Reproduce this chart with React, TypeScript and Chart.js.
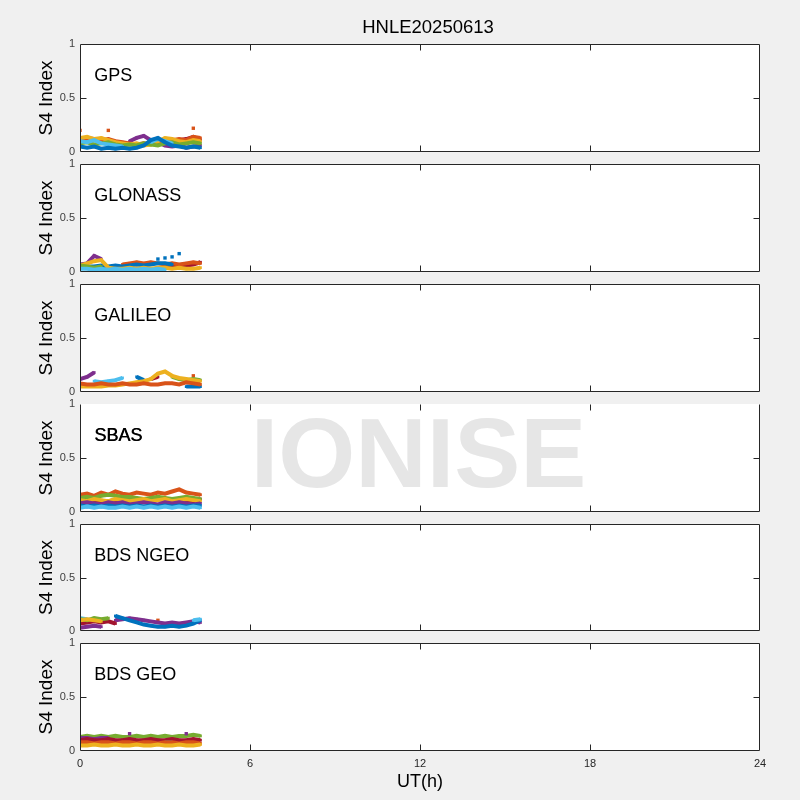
import React, { useEffect, useRef } from 'react';
import { Chart, registerables } from 'chart.js';
Chart.register(...registerables);

const FONT = '"Liberation Sans", Arial, Helvetica, sans-serif';
const N = null;

const BLUE = '#0072BD';
const ORANGE = '#D95319';
const YELLOW = '#EDB120';
const PURPLE = '#7E2F8E';
const GREEN = '#77AC30';
const CYAN = '#4DBEEE';
const RED = '#A2142F';

const TITLE = 'HNLE20250613';
const X_TITLE = 'UT(h)';
const Y_TITLE = 'S4 Index';
const X_TICKS = [0, 6, 12, 18, 24];
const Y_TICKS = [0, 0.5, 1];
const Y_TICK_LABELS = ['0', '0.5', '1'];
const WATERMARK = 'IONISE';

// UT hours of the sampled values
const TIMES = [0, 0.25, 0.5, 0.75, 1, 1.25, 1.5, 1.75, 2, 2.25, 2.5, 2.75, 3, 3.25, 3.5, 3.75, 4, 4.25];

// GPS
const gpsBlue = [0.05, 0.04, 0.05, 0.03, 0.04, 0.03, 0.04, 0.03, 0.04, 0.06, 0.11, 0.13, 0.09, 0.06, 0.05, 0.04, 0.05, 0.04];
const gpsCyan = [0.10, 0.09, 0.11, 0.08, 0.07, 0.06, 0.05, N, N, N, 0.09, 0.12, 0.10, 0.08, N, N, N, N];
const gpsYellow = [0.13, 0.14, 0.12, 0.13, 0.11, 0.09, 0.08, 0.07, 0.08, 0.06, 0.07, 0.10, 0.13, 0.12, 0.10, 0.09, 0.11, 0.10];
const gpsOrange = [0.12, 0.13, 0.12, 0.11, 0.12, 0.10, 0.09, 0.08, 0.07, 0.08, 0.07, 0.09, 0.10, 0.11, 0.12, 0.11, 0.14, 0.13];
const gpsOrangeDots = [0.20, N, N, N, 0.20, N, N, N, N, N, N, N, N, N, N, N, 0.22, N];
const gpsGreen = [0.08, 0.09, 0.07, 0.08, 0.09, 0.07, 0.06, 0.07, 0.06, 0.08, 0.07, 0.06, 0.08, 0.09, 0.07, 0.08, 0.09, 0.08];
const gpsPurple = [N, N, N, N, N, N, N, 0.10, 0.13, 0.15, 0.11, 0.09, 0.06, 0.05, 0.06, 0.04, 0.05, 0.06];
const gpsRed = [N, N, N, N, N, N, N, N, N, N, N, N, N, 0.09, 0.11, 0.12, 0.14, 0.11];

// GLONASS
const glnCyan = [0.03, 0.03, 0.02, 0.03, 0.02, 0.03, 0.02, 0.03, 0.02, 0.03, 0.02, 0.03, 0.02, N, N, N, N, N];
const glnGreen = [0.06, 0.05, 0.04, 0.05, N, N, N, N, N, N, N, N, N, N, N, N, N, N];
const glnYellow = [0.06, 0.08, 0.10, 0.11, 0.04, 0.03, 0.03, 0.04, 0.03, 0.04, 0.03, 0.04, 0.04, 0.03, 0.04, 0.03, 0.03, 0.04];
const glnPurple = [0.07, 0.08, 0.15, 0.12, N, N, N, N, N, N, N, N, N, N, N, N, N, N];
const glnBlue = [0.04, 0.05, 0.05, 0.06, 0.05, 0.06, 0.05, 0.06, 0.07, 0.06, 0.07, 0.08, 0.08, 0.07, N, N, N, N];
const glnBlueDots = [N, N, N, N, N, N, N, N, N, N, N, 0.12, 0.13, 0.14, 0.17, N, N, N];
const glnOrange = [N, N, N, N, N, N, 0.07, 0.08, 0.09, 0.08, 0.09, 0.08, 0.07, 0.08, 0.07, 0.08, 0.09, 0.08];
const glnRed = [N, N, N, N, N, N, N, N, N, N, N, N, 0.05, 0.06, 0.05, 0.06, 0.07, 0.09];

// GALILEO
const galOrange = [0.08, 0.07, 0.07, 0.08, 0.07, 0.07, 0.08, 0.07, 0.07, 0.08, 0.07, 0.07, 0.08, 0.08, 0.07, 0.09, 0.08, 0.07];
const galYellow = [0.05, 0.05, 0.05, 0.05, 0.06, 0.06, 0.07, 0.08, 0.09, 0.10, 0.12, 0.17, 0.19, 0.15, 0.13, 0.12, 0.11, 0.10];
const galPurple = [0.12, 0.14, 0.18, N, N, N, N, N, N, N, N, N, N, N, N, N, N, N];
const galCyan = [N, N, 0.10, 0.09, 0.10, 0.11, 0.13, N, N, N, N, N, N, N, N, N, N, N];
const galBlue = [N, N, N, N, N, N, N, N, 0.14, 0.11, N, N, N, N, N, 0.05, 0.05, 0.05];
const galRed = [N, N, N, N, N, N, N, N, N, N, 0.12, 0.14, N, N, N, N, N, N];
const galGreen = [N, N, N, N, N, N, N, N, N, N, N, N, N, 0.14, 0.12, 0.11, 0.12, 0.11];
const galOrangeDots = [N, N, N, N, N, N, N, N, N, N, N, N, N, N, N, N, 0.15, N];

// SBAS
const sbCyan = [0.04, 0.05, 0.04, 0.05, 0.04, 0.04, 0.05, 0.04, 0.05, 0.04, 0.05, 0.04, 0.05, 0.04, 0.05, 0.04, 0.05, 0.04];
const sbBlue = [0.06, 0.05, 0.06, 0.05, 0.06, 0.05, 0.06, 0.05, 0.06, 0.05, 0.06, 0.05, 0.06, 0.05, 0.06, 0.05, 0.06, 0.06];
const sbPurple = [0.08, 0.09, 0.08, 0.07, 0.09, 0.08, 0.09, 0.07, 0.08, 0.09, 0.08, 0.07, 0.09, 0.08, 0.09, 0.08, 0.07, 0.08];
const sbYellow = [0.11, 0.10, 0.12, 0.11, 0.10, 0.12, 0.11, 0.10, 0.11, 0.12, 0.10, 0.11, 0.12, 0.10, 0.11, 0.12, 0.11, 0.10];
const sbGreen = [0.13, 0.14, 0.13, 0.15, 0.16, 0.15, 0.14, 0.14, 0.13, 0.12, 0.13, 0.14, 0.13, 0.12, 0.13, 0.14, 0.13, 0.12];
const sbOrange = [0.16, 0.17, 0.15, 0.18, 0.16, 0.19, 0.17, 0.16, 0.18, 0.17, 0.16, 0.18, 0.17, 0.19, 0.21, 0.18, 0.17, 0.16];
const sbRed = [0.10, 0.09, 0.11, 0.09, 0.10, 0.11, 0.09, 0.10, 0.09, 0.11, 0.10, 0.12, 0.11, 0.10, 0.12, 0.11, 0.10, 0.12];

// BDS NGEO
const ngPurpleLow = [0.03, 0.04, 0.05, 0.04, N, N, N, N, N, N, N, N, N, N, N, N, N, N];
const ngRed = [0.07, 0.08, 0.09, 0.08, 0.09, 0.07, N, N, N, N, N, N, N, N, N, N, N, N];
const ngYellow = [0.10, 0.11, 0.10, 0.09, N, N, N, N, N, N, N, N, N, N, N, N, N, N];
const ngGreen = [0.11, 0.10, 0.12, 0.11, 0.12, N, N, N, N, N, N, N, N, N, N, N, N, N];
const ngCyan = [0.12, 0.11, N, N, N, N, N, N, N, N, N, N, N, N, N, N, 0.10, 0.11];
const ngPurple = [N, N, N, N, N, 0.10, 0.11, 0.12, 0.11, 0.10, 0.09, 0.08, 0.07, 0.08, 0.07, 0.08, 0.09, 0.08];
const ngBlue = [N, N, N, N, N, 0.14, 0.12, 0.10, 0.08, 0.06, 0.05, 0.04, 0.04, 0.05, 0.04, 0.05, 0.07, 0.10];
const ngOrangeDots = [N, N, N, N, N, N, N, N, N, N, N, 0.10, N, N, N, N, N, N];

// BDS GEO
const geoYellow = [0.05, 0.05, 0.06, 0.05, 0.05, 0.06, 0.05, 0.05, 0.06, 0.05, 0.05, 0.06, 0.05, 0.05, 0.06, 0.05, 0.05, 0.06];
const geoOrange = [0.08, 0.08, 0.07, 0.08, 0.08, 0.07, 0.08, 0.08, 0.07, 0.08, 0.08, 0.07, 0.08, 0.08, 0.07, 0.08, 0.08, 0.07];
const geoBlue = [N, N, N, N, N, N, N, N, N, N, N, N, 0.08, 0.08, N, N, N, N];
const geoRed = [0.10, 0.11, 0.10, 0.10, 0.11, 0.10, 0.10, 0.11, 0.10, 0.10, 0.11, 0.10, 0.10, 0.11, 0.10, 0.10, 0.11, 0.10];
const geoPurple = [0.12, 0.12, 0.11, 0.12, 0.12, N, N, N, N, N, N, N, N, N, N, N, N, N];
const geoPurpleDots = [N, N, N, N, N, N, N, 0.16, N, N, N, N, N, N, N, 0.16, N, N];
const geoGreen = [0.13, 0.14, 0.13, 0.14, 0.13, 0.14, 0.13, 0.13, 0.14, 0.13, 0.14, 0.13, 0.14, 0.13, 0.14, 0.14, 0.15, 0.14];

type S = { d: (number | null)[]; c: string; line: boolean };
const L = (d: (number | null)[], c: string): S => ({ d, c, line: true });
const D = (d: (number | null)[], c: string): S => ({ d, c, line: false });

const PANELS = [
  { label: 'GPS', series: [L(gpsBlue, BLUE), L(gpsCyan, CYAN), L(gpsGreen, GREEN), L(gpsYellow, YELLOW), L(gpsOrange, ORANGE), D(gpsOrangeDots, ORANGE), L(gpsPurple, PURPLE), L(gpsRed, RED)] },
  { label: 'GLONASS', series: [L(glnCyan, CYAN), L(glnGreen, GREEN), L(glnYellow, YELLOW), L(glnPurple, PURPLE), L(glnBlue, BLUE), D(glnBlueDots, BLUE), L(glnOrange, ORANGE), L(glnRed, RED)] },
  { label: 'GALILEO', series: [L(galOrange, ORANGE), L(galYellow, YELLOW), L(galPurple, PURPLE), L(galCyan, CYAN), L(galBlue, BLUE), L(galRed, RED), L(galGreen, GREEN), D(galOrangeDots, ORANGE)] },
  { label: 'SBAS', series: [L(sbCyan, CYAN), L(sbBlue, BLUE), L(sbPurple, PURPLE), L(sbYellow, YELLOW), L(sbGreen, GREEN), L(sbOrange, ORANGE), L(sbRed, RED)] },
  { label: 'BDS NGEO', series: [L(ngPurpleLow, PURPLE), L(ngYellow, YELLOW), L(ngGreen, GREEN), L(ngCyan, CYAN), L(ngRed, RED), L(ngBlue, BLUE), L(ngPurple, PURPLE), D(ngOrangeDots, ORANGE)] },
  { label: 'BDS GEO', series: [L(geoYellow, YELLOW), L(geoOrange, ORANGE), L(geoBlue, BLUE), L(geoRed, RED), L(geoPurple, PURPLE), D(geoPurpleDots, PURPLE), L(geoGreen, GREEN)] },
];

// layout (pixels)
const PANEL_TOPS = [44, 164, 284, 404, 524, 643];
const PANEL_BOTTOMS = [152, 272, 392, 512, 631, 751];
const PLOT_LEFT = 80;
const PLOT_RIGHT = 760;
const MARGIN = 14;
const TITLE_X = 428;
const TITLE_Y = 28;

function geom(i: number) {
  const last = i === PANELS.length - 1;
  const top = i === 0 ? 0 : PANEL_TOPS[i] - MARGIN;
  const bottom = last ? 800 : PANEL_BOTTOMS[i] + MARGIN;
  return { top, h: bottom - top };
}

const decoPlugin = {
  id: 'panelDeco',
  beforeDraw(chart: any) {
    const { ctx, chartArea: a } = chart;
    ctx.save();
    ctx.fillStyle = '#ffffff';
    ctx.fillRect(a.left, a.top, a.right - a.left, a.bottom - a.top);
    ctx.restore();
  },
  beforeDatasetsDraw(chart: any, _args: any, opts: any) {
    if (!opts.watermark) return;
    const { ctx } = chart;
    const xs = chart.scales.x;
    const ys = chart.scales.y;
    ctx.save();
    ctx.font = `bold 99px ${FONT}`;
    ctx.fillStyle = '#e6e6e6';
    ctx.textAlign = 'center';
    ctx.textBaseline = 'alphabetic';
    ctx.fillText(opts.watermark, xs.getPixelForValue(11.95), ys.getPixelForValue(0.23));
    ctx.restore();
  },
  afterDraw(chart: any, _args: any, opts: any) {
    const { ctx, chartArea: a } = chart;
    const xs = chart.scales.x;
    const ys = chart.scales.y;
    const l = Math.round(a.left) + 0.5;
    const r = Math.round(a.right) - 0.5;
    const t = Math.round(a.top) + 0.5;
    const b = Math.round(a.bottom) - 0.5;
    ctx.save();
    ctx.strokeStyle = '#262626';
    ctx.lineWidth = 1;
    ctx.beginPath();
    ctx.moveTo(l, b); ctx.lineTo(r, b);
    ctx.moveTo(l, t); ctx.lineTo(l, b);
    ctx.moveTo(r, t); ctx.lineTo(r, b);
    if (!opts.noTop) { ctx.moveTo(l, t); ctx.lineTo(r, t); }
    const tl = 6;
    X_TICKS.slice(1, -1).forEach((v) => {
      const px = Math.round(xs.getPixelForValue(v)) + 0.5;
      ctx.moveTo(px, b); ctx.lineTo(px, b - tl);
      ctx.moveTo(px, t); ctx.lineTo(px, t + tl);
    });
    Y_TICKS.slice(1, -1).forEach((v) => {
      const py = Math.round(ys.getPixelForValue(v)) + 0.5;
      ctx.moveTo(l, py); ctx.lineTo(l + tl, py);
      ctx.moveTo(r, py); ctx.lineTo(r - tl, py);
    });
    ctx.stroke();
    ctx.font = `18px ${FONT}`;
    ctx.fillStyle = '#000000';
    ctx.textAlign = 'left';
    ctx.textBaseline = 'middle';
    const lx = xs.getPixelForValue(0.5);
    const ly = ys.getPixelForValue(0.7);
    ctx.fillText(opts.label, lx, ly);
    if (opts.heavy) ctx.fillText(opts.label, lx + 0.6, ly);
    if (opts.title) {
      ctx.font = `18.5px ${FONT}`;
      ctx.textAlign = 'center';
      ctx.fillText(opts.title, TITLE_X, TITLE_Y);
    }
    ctx.restore();
  },
};

export default function App() {
  const refs = useRef<(HTMLCanvasElement | null)[]>([]);

  useEffect(() => {
    const charts = PANELS.map((p, i) => {
      const last = i === PANELS.length - 1;
      const first = i === 0;
      const canvas = refs.current[i] as HTMLCanvasElement;
      const datasets = p.series.map((s) => ({
        type: 'line' as const,
        data: TIMES.map((t, k) => ({ x: t, y: s.d[k] })),
        borderColor: s.c,
        backgroundColor: s.c,
        pointBackgroundColor: s.c,
        borderWidth: s.line ? 4 : 0,
        showLine: s.line,
        pointStyle: 'rect' as const,
        pointRadius: s.line ? 2 : 2.4,
        pointBorderWidth: 0,
        spanGaps: false,
        tension: 0,
      }));
      return new Chart(canvas, {
        type: 'line',
        data: { datasets },
        plugins: [decoPlugin],
        options: {
          animation: false,
          responsive: false,
          devicePixelRatio: 1,
          events: [],
          layout: {
            autoPadding: false,
            padding: { left: 0, right: 800 - PLOT_RIGHT, top: first ? PANEL_TOPS[0] : MARGIN, bottom: last ? 0 : MARGIN },
          },
          scales: {
            x: {
              type: 'linear',
              min: 0,
              max: 24,
              display: last,
              afterBuildTicks: (s: any) => { s.ticks = X_TICKS.map((v) => ({ value: v })); },
              afterFit: (s: any) => { if (last) s.height = 800 - PANEL_BOTTOMS[PANELS.length - 1]; },
              grid: { display: false, drawTicks: false },
              border: { display: false },
              ticks: { font: { family: FONT, size: 11 }, color: '#262626', padding: 6, maxRotation: 0, autoSkip: false },
              title: { display: last, text: X_TITLE, font: { family: FONT, size: 18 }, color: '#000000', padding: { top: 0, bottom: 7 } },
            },
            y: {
              type: 'linear',
              min: 0,
              max: 1,
              afterBuildTicks: (s: any) => { s.ticks = Y_TICKS.map((v) => ({ value: v })); },
              afterFit: (s: any) => { s.width = PLOT_LEFT; },
              grid: { display: false, drawTicks: false },
              border: { display: false },
              ticks: {
                font: { family: FONT, size: 11 },
                color: '#404040',
                padding: 5,
                callback: (v: any) => Y_TICK_LABELS[Y_TICKS.indexOf(Number(v))] ?? String(v),
              },
              title: { display: true, text: Y_TITLE, font: { family: FONT, size: 19 }, color: '#000000', padding: { top: 35.5, bottom: 0 } },
            },
          },
          plugins: {
            legend: { display: false },
            tooltip: { enabled: false },
            title: { display: false },
            panelDeco: {
              label: p.label,
              noTop: i === 3,
              watermark: i === 3 ? WATERMARK : '',
              heavy: i === 3,
              title: first ? TITLE : '',
            },
          } as any,
        },
      } as any);
    });
    return () => charts.forEach((c) => c.destroy());
  }, []);

  return (
    <div style={{ position: 'absolute', left: 0, top: 0, width: 800, height: 800, background: '#f0f0f0', overflow: 'hidden' }}>
      {PANELS.map((p, i) => {
        const g = geom(i);
        return (
          <canvas
            key={p.label}
            ref={(el) => { refs.current[i] = el; }}
            width={800}
            height={g.h}
            style={{ position: 'absolute', left: 0, top: g.top, width: 800, height: g.h }}
          />
        );
      })}
    </div>
  );
}
